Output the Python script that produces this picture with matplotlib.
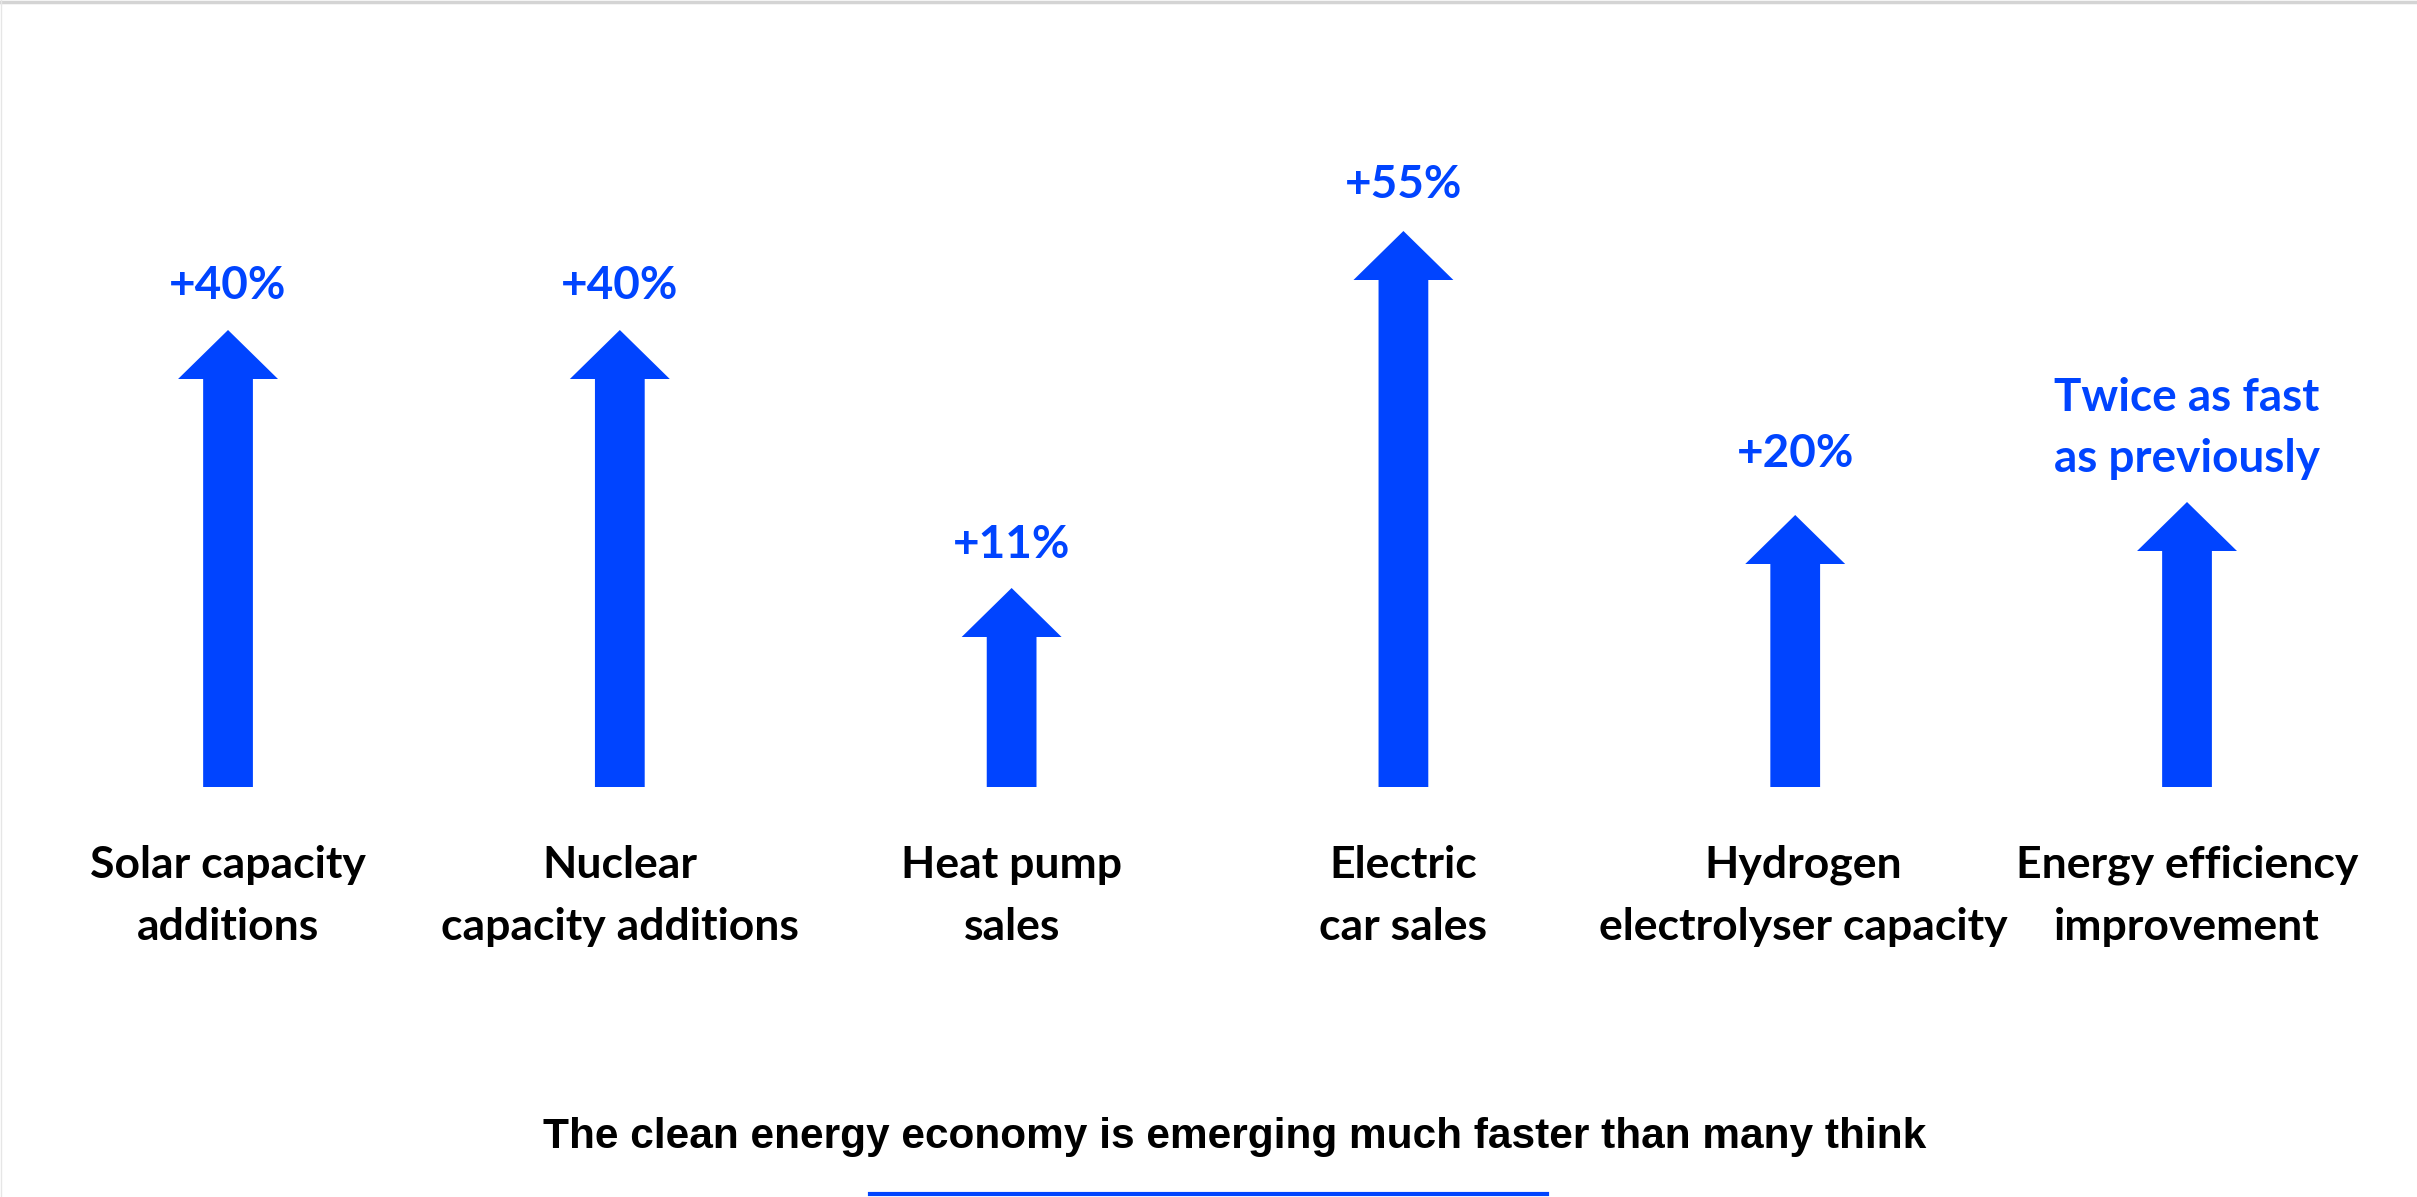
import matplotlib
matplotlib.use("Agg")
import matplotlib.pyplot as plt
from matplotlib.lines import Line2D

# data
categories = ["Solar capacity\nadditions", "Nuclear\ncapacity additions", "Heat pump\nsales",
              "Electric\ncar sales", "Hydrogen\nelectrolyser capacity", "Energy efficiency\nimprovement"]
value_labels = ["+40%", "+40%", "+11%", "+55%", "+20%", "Twice as fast\nas previously"]
arrow_len = [4.57, 4.57, 1.99, 5.56, 2.72, 2.85]  # arrow heights as drawn (arbitrary units)

BLUE = "#0044FF"
# gap between arrow tip and the baseline of the (last line of the) value label
label_pad = [0.31, 0.31, 0.30, 0.33, 0.48, 0.30]

fig = plt.figure(figsize=(24.17, 11.97), dpi=100)
ax = fig.add_axes([0, 0, 1, 1])
ax.set_xlim(-0.582, 5.587)
ax.set_ylim(-4.10, 7.87)
ax.axis("off")

for i, (cat, val, h) in enumerate(zip(categories, value_labels, arrow_len)):
    ax.arrow(i, 0, 0, h, width=0.127, head_width=0.255, head_length=0.49,
             length_includes_head=True, color=BLUE, lw=0)
    ax.text(i, h + label_pad[i], val, ha="center", va="baseline", color=BLUE,
            fontsize=33, fontweight="bold", family="Lato", linespacing=1.56)
    ax.text(i + (0.02 if i == 4 else 0), -1.53, cat, ha="center", va="baseline",
            multialignment="center", fontsize=32, fontweight="bold", family="Lato",
            linespacing=1.66)

fig.text(0.511, 0.041, "The clean energy economy is emerging much faster than many think",
         ha="center", va="baseline", fontsize=30.5, fontweight="bold", family="Liberation Sans")

fig.add_artist(Line2D([0.360, 0.640], [0.0022, 0.0022], color=BLUE, lw=3))
fig.add_artist(Line2D([0, 1], [0.9985, 0.9985], color="#d4d4d4", lw=2.5))
fig.add_artist(Line2D([0.0003, 0.0003], [0, 1], color="#e6e6e6", lw=1))

fig.savefig("out.png", dpi=100)
